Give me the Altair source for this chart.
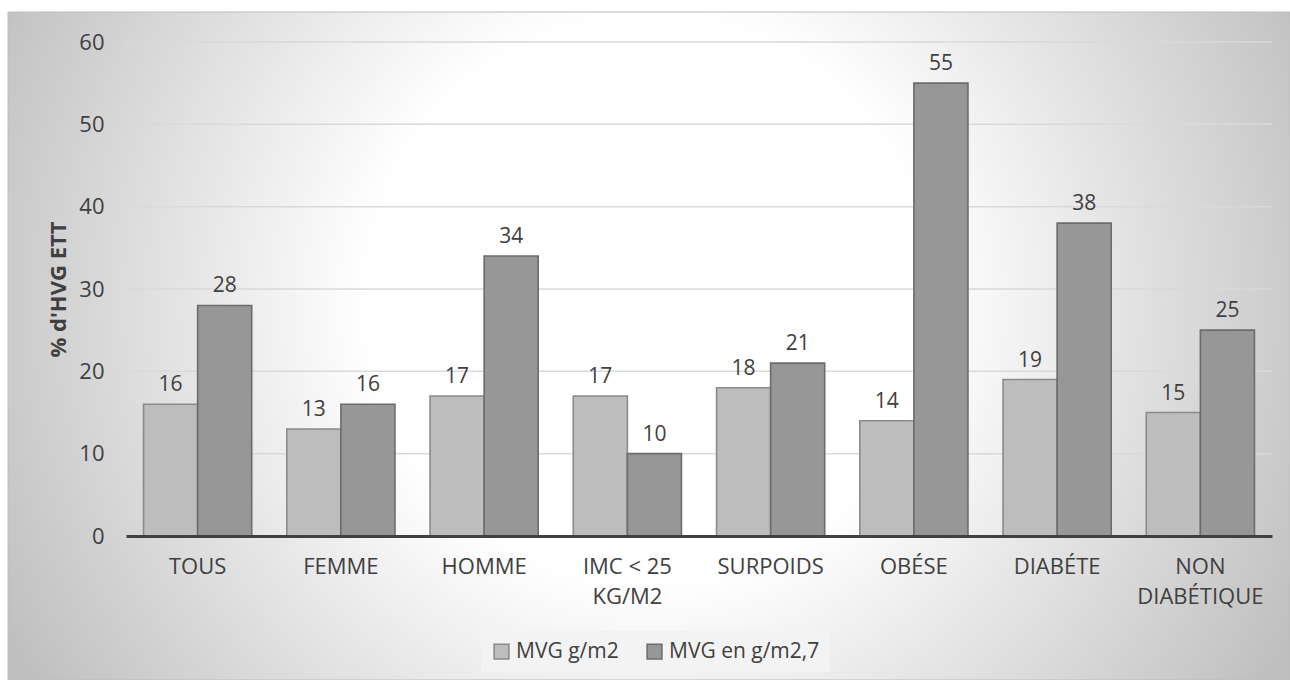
import altair as alt
import pandas as pd

# Chart data
categories = ["TOUS", "FEMME", "HOMME", "IMC < 25 KG/M2", "SURPOIDS", "OBÉSE", "DIABÉTE", "NON DIABÉTIQUE"]
series = ["MVG g/m2", "MVG en g/m2,7"]
mvg_g_m2 = [16, 13, 17, 17, 18, 14, 19, 15]
mvg_g_m27 = [28, 16, 34, 10, 21, 55, 38, 25]
y_ticks = [0, 10, 20, 30, 40, 50, 60]

fill_colors = ["#bdbdbd", "#979797"]
stroke_colors = ["#8a8a8a", "#6c6c6c"]
text_color = "#404040"
font = "Open Sans"
fs = 22

rows = []
for i, cat in enumerate(categories):
    rows.append({"cat": cat, "serie": series[0], "val": mvg_g_m2[i]})
    rows.append({"cat": cat, "serie": series[1], "val": mvg_g_m27[i]})
df = pd.DataFrame(rows)
grid_df = pd.DataFrame({"tick": y_ticks[1:]})

W, H = 1146, 494
PAD = {"left": 126, "top": 42, "right": 18, "bottom": 144}

# Soft radial backdrop behind the whole chart
backdrop = alt.Chart(pd.DataFrame({"k": [0]})).mark_rect(
    color={
        "gradient": "radial",
        "x1": 0.5, "y1": 0.464, "r1": 0,
        "x2": 0.5, "y2": 0.464, "r2": 0.562,
        "stops": [
            {"offset": 0, "color": "#ffffff"},
            {"offset": 0.39, "color": "#ffffff"},
            {"offset": 1, "color": "#c0c0c0"},
        ],
    },
    stroke="#bdbdbd",
    strokeWidth=1,
).encode(
    x=alt.value(-118), x2=alt.value(W + 18),
    y=alt.value(-30), y2=alt.value(H + 144),
)

x_enc = alt.X(
    "cat:N",
    sort=categories,
    scale=alt.Scale(paddingInner=0.245, paddingOuter=0.1225),
    axis=alt.Axis(
        title=None,
        labelAngle=0,
        labelExpr="datum.label == 'IMC < 25 KG/M2' ? ['IMC < 25', 'KG/M2'] : "
                  "datum.label == 'NON DIABÉTIQUE' ? ['NON', 'DIABÉTIQUE'] : datum.label",
        labelFont=font,
        labelFontSize=fs,
        labelColor=text_color,
        labelPadding=20,
        labelLineHeight=30,
        ticks=False,
        domainColor="#404040",
        domainWidth=3,
        zindex=1,
    ),
)
y_scale = alt.Scale(domain=[0, 60], nice=False)
y_enc = alt.Y(
    "val:Q",
    scale=y_scale,
    axis=alt.Axis(
        values=y_ticks,
        title="% d'HVG ETT",
        titleFont=font,
        titleFontSize=22,
        titleFontWeight="bold",
        titleColor=text_color,
        titleX=-68,
        titleY=H / 2,
        titleAlign="center",
        titleBaseline="middle",
        labelFont=font,
        labelFontSize=fs,
        labelColor=text_color,
        labelPadding=22,
        ticks=False,
        domain=False,
        grid=False,
        zindex=1,
    ),
)
off_enc = alt.XOffset("serie:N", sort=series, scale=alt.Scale(paddingInner=0, paddingOuter=0))

gridlines = alt.Chart(grid_df).mark_rule(color="#d9d9d9", strokeWidth=1.5).encode(
    y=alt.Y("tick:Q", scale=y_scale),
    x=alt.value(0),
    x2=alt.value(W),
)

bars = alt.Chart(df).mark_bar(strokeWidth=1.6).encode(
    x=x_enc,
    xOffset=off_enc,
    y=y_enc,
    color=alt.Color(
        "serie:N",
        sort=series,
        scale=alt.Scale(domain=series, range=fill_colors),
        legend=alt.Legend(
            title=None,
            orient="none",
            direction="horizontal",
            legendX=355,
            legendY=589,
            symbolType="square",
            symbolSize=220,
            symbolStrokeColor="#777777",
            symbolStrokeWidth=1.5,
            symbolOpacity=1,
            labelFont=font,
            labelFontSize=21,
            labelColor=text_color,
            labelOffset=4,
            columnPadding=25,
            fillColor="#f3f3f3",
            padding=10,
        ),
    ),
    stroke=alt.Stroke(
        "serie:N",
        sort=series,
        scale=alt.Scale(domain=series, range=stroke_colors),
        legend=None,
    ),
)

labels = alt.Chart(df).mark_text(
    dy=-13, baseline="alphabetic", font=font, fontSize=21, color=text_color
).encode(
    x=alt.X("cat:N", sort=categories),
    xOffset=off_enc,
    y=alt.Y("val:Q", scale=y_scale),
    text=alt.Text("val:Q"),
)

chart = alt.layer(backdrop, gridlines, bars, labels).properties(
    width=W,
    height=H,
    padding=PAD,
    autosize=alt.AutoSizeParams(type="none"),
    background="#ffffff",
).configure_view(stroke=None)

chart.save("out.html", embed_options={"renderer": "svg", "actions": False})
